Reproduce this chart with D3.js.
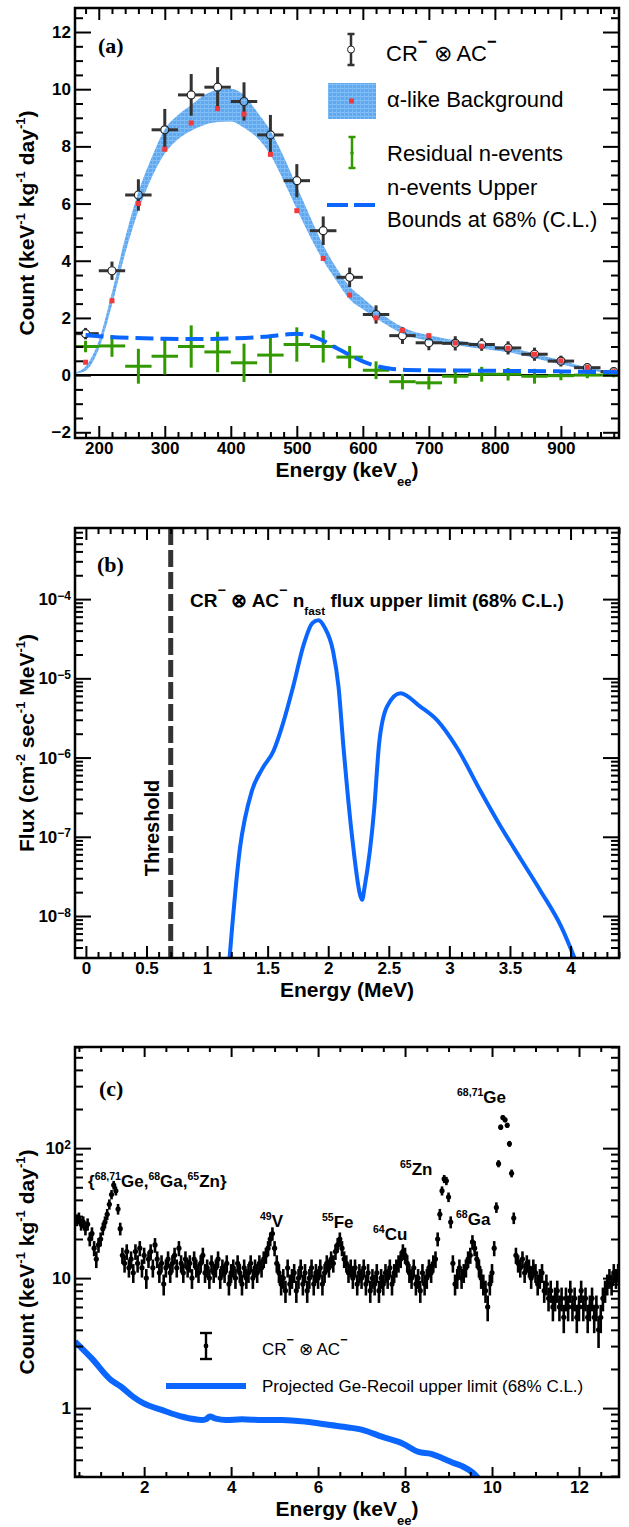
<!DOCTYPE html>
<html>
<head>
<meta charset="utf-8">
<script src="https://cdn.jsdelivr.net/npm/d3@7"></script>
<style>
body { margin: 0; background: #fff; }
</style>
</head>
<body>
<script>
// ---------- panel (a): CR- x AC- spectrum, keV_ee ----------
var binE      = [180, 220, 260, 300, 340, 380, 420, 460, 500, 540, 580, 620, 660, 700, 740, 780, 820, 860, 900, 940, 980];
var crCount   = [1.45, 3.65, 6.3, 8.58, 9.8, 10.07, 9.57, 8.4, 6.8, 5.05, 3.42, 2.12, 1.38, 1.13, 1.11, 1.07, 0.95, 0.73, 0.49, 0.26, 0.12];
var crErr     = [0.2, 0.32, 0.55, 0.73, 0.73, 0.7, 0.67, 0.7, 0.58, 0.5, 0.34, 0.32, 0.29, 0.26, 0.25, 0.22, 0.23, 0.23, 0.19, 0.15, 0.12];
var bgCount   = [0.45, 2.6, 6.0, 7.9, 8.82, 9.32, 9.13, 7.72, 5.75, 4.08, 2.8, 2.0, 1.57, 1.38, 1.12, 1.01, 0.94, 0.73, 0.5, 0.27, 0.12];
var resCount  = [1.0, 1.02, 0.31, 0.66, 1.0, 0.81, 0.43, 0.7, 1.07, 1.0, 0.63, 0.17, -0.23, -0.27, -0.04, 0.03, 0.03, -0.04, -0.02, 0.0, 0.0];
var resErr    = [0.2, 0.38, 0.61, 0.64, 0.74, 0.71, 0.67, 0.64, 0.6, 0.56, 0.39, 0.31, 0.27, 0.23, 0.26, 0.26, 0.22, 0.26, 0.16, 0.11, 0.08];

var bandE    = [165, 180, 200, 220, 240, 260, 280, 300, 320, 340, 360, 380, 400, 420, 440, 460, 480, 500, 520, 540, 560, 580, 600, 620, 640, 660, 680, 700, 720, 740, 760, 780, 800, 820, 840, 860, 880, 900, 920, 940, 960, 980, 990];
var bandLow  = [0.05, 0.15, 0.9, 2.45, 4.25, 5.75, 6.9, 7.75, 8.25, 8.55, 8.75, 8.85, 8.87, 8.65, 8.3, 7.7, 6.8, 5.8, 4.85, 4.0, 3.3, 2.65, 2.3, 2.0, 1.7, 1.45, 1.3, 1.2, 1.12, 1.05, 0.98, 0.92, 0.86, 0.8, 0.7, 0.6, 0.48, 0.38, 0.27, 0.18, 0.11, 0.05, 0.03];
var bandHigh = [0.1, 0.3, 1.2, 2.9, 4.8, 6.4, 7.6, 8.6, 9.1, 9.45, 9.8, 9.98, 10.02, 9.8, 9.2, 8.55, 7.65, 6.6, 5.55, 4.55, 3.75, 3.1, 2.7, 2.3, 1.95, 1.68, 1.5, 1.4, 1.3, 1.22, 1.15, 1.1, 1.03, 0.96, 0.87, 0.76, 0.63, 0.52, 0.39, 0.28, 0.19, 0.12, 0.09];

var boundE   = [180, 200, 250, 300, 350, 400, 450, 480, 500, 520, 540, 560, 580, 600, 620, 640, 660, 700, 750, 800, 850, 900, 950, 990];
var boundVal = [1.4, 1.36, 1.3, 1.27, 1.26, 1.28, 1.34, 1.41, 1.45, 1.38, 1.2, 0.95, 0.7, 0.48, 0.32, 0.23, 0.19, 0.17, 0.16, 0.15, 0.14, 0.13, 0.11, 0.1];

// ---------- panel (b): fast neutron flux upper limit ----------
var fluxE   = [1.17, 1.27, 1.37, 1.455, 1.55, 1.63, 1.71, 1.8, 1.87, 1.92, 1.97, 2.04, 2.085, 2.125, 2.2, 2.265, 2.28, 2.3, 2.38, 2.42, 2.485, 2.595, 2.76, 2.9, 3.06, 3.26, 3.4, 3.59, 3.75, 3.92, 4.1];
var fluxVal = [1.5e-9, 6.9e-8, 3.8e-7, 7.2e-7, 1.23e-6, 2.8e-6, 7.8e-6, 2.75e-5, 5.0e-5, 5.4e-5, 4.4e-5, 2.2e-5, 7.8e-6, 1.4e-6, 9.1e-8, 1.8e-8, 1.6e-8, 2.3e-8, 2.3e-7, 1.5e-6, 4.4e-6, 6.5e-6, 4.4e-6, 2.95e-6, 1.35e-6, 3.7e-7, 1.55e-7, 5.2e-8, 2.1e-8, 7.5e-9, 1.6e-9];
var thresholdE = 0.7;

// ---------- panel (c): low energy spectrum (0.05 keV bins from 0.45 keV) ----------
var specStart = 0.45, specStep = 0.05;
var specCount = [
  28, 29, 26, 27, 24, 26, 20, 22, 17, 14,      // 0.45 - 0.90
  18, 20, 24, 27, 31, 37, 44, 52, 47, 34,      // 0.95 - 1.40
  24, 15, 13, 16, 12, 14, 11, 16, 13, 17,      // 1.45 - 1.90
  12, 15, 10, 14, 16, 12, 18, 14, 11, 13,      // 1.95 - 2.40
  9, 12, 14, 11, 13, 15, 12, 17, 13, 11,       // 2.45 - 2.90
  14, 12, 13, 10, 14, 12, 11, 13, 15, 11,      // 2.95 - 3.40
  12, 10, 13, 11, 12, 14, 10, 12, 11, 13,      // 3.45 - 3.90
  9, 11, 12, 10, 13, 11, 9, 12, 10, 11,        // 3.95 - 4.40
  13, 10, 12, 11, 13, 12, 14, 15, 17, 20,      // 4.45 - 4.90
  22, 17, 13, 11, 9, 10, 8, 12, 9, 10,         // 4.95 - 5.40
  11, 8, 10, 12, 9, 11, 8, 10, 12, 9,          // 5.45 - 5.90
  11, 10, 12, 9, 11, 13, 12, 14, 13, 16,       // 5.95 - 6.40
  18, 20, 17, 14, 13, 11, 12, 10, 12, 9,       // 6.45 - 6.90
  11, 10, 12, 9, 11, 8, 10, 9, 11, 8,          // 6.95 - 7.40
  10, 9, 11, 10, 12, 9, 11, 12, 13, 14,        // 7.45 - 7.90
  16, 15, 13, 11, 10, 12, 9, 10, 8, 11,        // 7.95 - 8.40
  9, 10, 12, 11, 13, 14, 20, 31, 47, 58,       // 8.45 - 8.90
  56, 42, 27, 13, 9, 10, 12, 10, 11, 12,       // 8.95 - 9.40
  14, 15, 19, 17, 14, 12, 10, 9, 8, 6,         // 9.45 - 9.90
  9, 11, 17, 35, 76, 145, 172, 165, 150, 108,  // 9.95 - 10.40
  64, 29, 15, 13, 12, 14, 11, 13, 12, 10,      // 10.45 - 10.90
  12, 11, 9, 10, 11, 8, 9, 7, 8, 6,            // 10.95 - 11.40
  7, 8, 6, 7, 5, 7, 6, 8, 6, 7,                // 11.45 - 11.90
  5, 6, 8, 6, 7, 5, 6, 7, 5, 6,                // 11.95 - 12.40
  4, 5, 7, 8, 9, 10, 9, 11, 10, 11             // 12.45 - 12.90
];
var errScale = 0.55; // error bar half-length ~ errScale*sqrt(count)
var recoilE   = [0.41, 0.8, 1.24, 1.47, 1.75, 1.98, 2.4, 2.87, 3.33, 3.42, 3.51, 3.65, 3.88, 4.25, 4.7, 5.17, 5.73, 6.28, 6.7, 7.02, 7.48, 7.94, 8.31, 8.6, 8.87, 9.1, 9.34, 9.55, 9.72];
var recoilVal = [3.25, 2.4, 1.64, 1.46, 1.22, 1.09, 0.97, 0.86, 0.81, 0.82, 0.86, 0.83, 0.81, 0.82, 0.81, 0.81, 0.785, 0.74, 0.71, 0.68, 0.6, 0.535, 0.46, 0.445, 0.41, 0.38, 0.354, 0.32, 0.28];

var BLUE = "#0a66ff";
var SANS = "'Liberation Sans', Arial, sans-serif";
var SERIF = "'Liberation Serif', 'DejaVu Serif', serif";
var svg = d3.select("body").append("svg")
	.attr("width", 629)
	.attr("height", 1527)
	.style("font-family", SANS);

// hatched light-blue fill like the ROOT band
var pat = svg.append("defs").append("pattern")
	.attr("id", "bandFill").attr("patternUnits", "userSpaceOnUse")
	.attr("width", 4).attr("height", 4);
pat.append("rect").attr("width", 4).attr("height", 4).attr("fill", "#5ea9f1");
pat.append("rect").attr("width", 4).attr("height", 1).attr("fill", "#85bff5");
pat.append("rect").attr("width", 1).attr("height", 4).attr("fill", "#7ab9f4");

// rich text: parts are strings or [string, "sup"|"sub"|"bar"]
function rich(parent, x, y, parts, size, weight, anchor) {
	var t = parent.append("text")
		.attr("x", x).attr("y", y)
		.attr("font-size", size)
		.attr("font-weight", weight || "normal")
		.attr("text-anchor", anchor || "start")
		.attr("fill", "#000");
	var shift = 0;
	var off = {sup: -0.42, sub: 0.42, bar: -0.62};
	parts.forEach(function(p) {
		var kind = typeof p === "string" ? "" : p[1];
		var str = typeof p === "string" ? p : p[0];
		var target = kind ? off[kind] * size : 0;
		t.append("tspan")
			.attr("dy", target - shift)
			.attr("font-size", kind ? size * (kind === "bar" ? 0.75 : 0.62) : size)
			.attr("font-weight", kind === "bar" ? "bold" : null)
			.text(str);
		shift = target;
	});
	return t;
}

function axes(x, y, o) {
	var g = svg.append("g");
	var xl = x.range()[0], xr = x.range()[1], yb = y.range()[0], yt = y.range()[1];
	var fmt = o.xFmt || function(d) { return d; };
	g.append("g").attr("transform", "translate(0," + yb + ")")
		.call(d3.axisBottom(x).tickValues(o.xMajor).tickSize(-o.xLen).tickPadding(4).tickFormat(fmt));
	g.append("g").attr("transform", "translate(0," + yb + ")")
		.call(d3.axisBottom(x).tickValues(o.xMinor).tickSize(-o.xLen / 2).tickFormat(""));
	g.append("g").attr("transform", "translate(0," + yt + ")")
		.call(d3.axisTop(x).tickValues(o.xMajor).tickSize(-o.xLen).tickFormat(""));
	g.append("g").attr("transform", "translate(0," + yt + ")")
		.call(d3.axisTop(x).tickValues(o.xMinor).tickSize(-o.xLen / 2).tickFormat(""));
	var ly = g.append("g").attr("transform", "translate(" + xl + ",0)")
		.call(d3.axisLeft(y).tickValues(o.yMajor).tickSize(-16).tickPadding(4).tickFormat(o.yFmt || function(d) { return d; }));
	g.append("g").attr("transform", "translate(" + xl + ",0)")
		.call(d3.axisLeft(y).tickValues(o.yMinor).tickSize(-8).tickFormat(""));
	g.append("g").attr("transform", "translate(" + xr + ",0)")
		.call(d3.axisRight(y).tickValues(o.yMajor).tickSize(-16).tickFormat(""));
	g.append("g").attr("transform", "translate(" + xr + ",0)")
		.call(d3.axisRight(y).tickValues(o.yMinor).tickSize(-8).tickFormat(""));
	g.selectAll(".domain").remove();
	g.selectAll(".tick line").attr("stroke", "#000").attr("stroke-width", 2);
	g.selectAll("text").attr("font-size", 17).attr("font-weight", "bold")
		.attr("font-family", SANS).attr("fill", "#000");
	if (o.yExp) {
		ly.selectAll(".tick text").each(function(d) {
			var e = Math.round(Math.log10(d));
			var t = d3.select(this).text("");
			if (e === 0) { t.text("1"); return; }
			if (e === 1) { t.text("10"); return; }
			t.append("tspan").text("10");
			t.append("tspan").attr("dy", "-0.45em").attr("font-size", 12)
				.text(e < 0 ? "\u2212" + (-e) : e);
		});
	}
	g.append("rect")
		.attr("x", xl).attr("y", yt)
		.attr("width", xr - xl).attr("height", yb - yt)
		.attr("fill", "none").attr("stroke", "#000").attr("stroke-width", 2.5);
}

function clipFor(id, x, y) {
	svg.append("clipPath").attr("id", id).append("rect")
		.attr("x", x.range()[0]).attr("y", y.range()[1])
		.attr("width", x.range()[1] - x.range()[0])
		.attr("height", y.range()[0] - y.range()[1]);
}

function panelTag(x, y, s) {
	svg.append("text").attr("x", x).attr("y", y)
		.style("font-family", SERIF)
		.attr("font-weight", "bold").attr("font-size", 22).text(s);
}

// ================= panel (a) =================
var xa = d3.scaleLinear().domain([164, 988]).range([75, 619]);
var ya = d3.scaleLinear().domain([-2.2, 12.84]).range([438, 8]);
clipFor("clipA", xa, ya);
var ga = svg.append("g").attr("clip-path", "url(#clipA)");

var bandArea = d3.area()
	.x(function(d, i) { return xa(bandE[i]); })
	.y0(function(d, i) { return ya(bandLow[i]); })
	.y1(function(d, i) { return ya(bandHigh[i]); })
	.curve(d3.curveMonotoneX);
ga.append("path").datum(bandE).attr("d", bandArea).attr("fill", "url(#bandFill)");

ga.append("line")
	.attr("x1", xa.range()[0]).attr("x2", xa.range()[1])
	.attr("y1", ya(0)).attr("y2", ya(0))
	.attr("stroke", "#000").attr("stroke-width", 2);

// black CR- x AC- points, open markers (bars stop at the marker edge)
var R = 4;
var cr = ga.selectAll(".cr").data(binE).enter().append("g").attr("class", "cr");
cr.each(function(d, i) {
	var g = d3.select(this), cx = xa(d), cy = ya(crCount[i]);
	var segs = [
		[xa(d - 20), cy, cx - R, cy], [cx + R, cy, xa(d + 20), cy],
		[cx, ya(crCount[i] + crErr[i]), cx, cy - R], [cx, cy + R, cx, ya(crCount[i] - crErr[i])]
	];
	segs.forEach(function(s) {
		g.append("line").attr("x1", s[0]).attr("y1", s[1]).attr("x2", s[2]).attr("y2", s[3])
			.attr("stroke", "#333").attr("stroke-width", 3);
	});
	g.append("circle").attr("cx", cx).attr("cy", cy).attr("r", R)
		.attr("fill", "none").attr("stroke", "#222").attr("stroke-width", 1.2);
});

// red alpha-like background markers
ga.selectAll(".bg").data(binE).enter().append("rect")
	.attr("x", function(d) { return xa(d) - 2.5; })
	.attr("y", function(d, i) { return ya(bgCount[i]) - 2.5; })
	.attr("width", 5).attr("height", 5).attr("fill", "#f23a3a");

// green residual n-events
var rs = ga.selectAll(".res").data(binE).enter().append("g");
rs.append("line")
	.attr("x1", function(d) { return xa(d - 20); }).attr("x2", function(d) { return xa(d + 20); })
	.attr("y1", function(d, i) { return ya(resCount[i]); }).attr("y2", function(d, i) { return ya(resCount[i]); })
	.attr("stroke", "#339900").attr("stroke-width", 3);
rs.append("line")
	.attr("x1", function(d) { return xa(d); }).attr("x2", function(d) { return xa(d); })
	.attr("y1", function(d, i) { return ya(resCount[i] - resErr[i]); })
	.attr("y2", function(d, i) { return ya(resCount[i] + resErr[i]); })
	.attr("stroke", "#339900").attr("stroke-width", 3);

// dashed upper bound
var boundLine = d3.line()
	.x(function(d, i) { return xa(boundE[i]); })
	.y(function(d, i) { return ya(boundVal[i]); })
	.curve(d3.curveMonotoneX);
ga.append("path").datum(boundE).attr("d", boundLine)
	.attr("fill", "none").attr("stroke", BLUE).attr("stroke-width", 4)
	.attr("stroke-dasharray", "18,7");

axes(xa, ya, {
	xMajor: d3.range(200, 901, 100),
	xMinor: d3.range(180, 990, 20).filter(function(d) { return d % 100 !== 0; }),
	xLen: 12,
	yMajor: [-2, 0, 2, 4, 6, 8, 10, 12],
	yMinor: d3.range(-4, 26).map(function(i) { return i / 2; }).filter(function(d) { return d % 2 !== 0 && d > -2.2 && d < 12.8; }),
	yFmt: function(d) { return d < 0 ? "\u2212" + (-d) : d; }
});

panelTag(98, 53, "(a)");
rich(svg, 34, 223, ["Count (keV", ["-1", "sup"], " kg", ["-1", "sup"], " day", ["-1", "sup"], ")"], 21, "bold", "middle")
	.attr("transform", "rotate(-90,34,223)");
rich(svg, 347, 477, ["Energy (keV", ["ee", "sub"], ")"], 21, "bold", "middle");

// legend (a)
var la = svg.append("g");
la.append("line").attr("x1", 351).attr("x2", 351).attr("y1", 34).attr("y2", 46).attr("stroke", "#333").attr("stroke-width", 2.5);
la.append("line").attr("x1", 351).attr("x2", 351).attr("y1", 53).attr("y2", 65).attr("stroke", "#333").attr("stroke-width", 2.5);
la.append("line").attr("x1", 347.5).attr("x2", 354.5).attr("y1", 34).attr("y2", 34).attr("stroke", "#333").attr("stroke-width", 2.5);
la.append("line").attr("x1", 347.5).attr("x2", 354.5).attr("y1", 65).attr("y2", 65).attr("stroke", "#333").attr("stroke-width", 2.5);
la.append("circle").attr("cx", 351).attr("cy", 49.5).attr("r", 3.5).attr("fill", "#fff").attr("stroke", "#222");
rich(la, 386, 61, ["CR", ["\u2212", "bar"], "  \u2297 AC", ["\u2212", "bar"]], 22, "normal");
la.append("rect").attr("x", 328).attr("y", 83).attr("width", 48).attr("height", 36).attr("fill", "url(#bandFill)");
la.append("rect").attr("x", 349).attr("y", 98.5).attr("width", 5).attr("height", 5).attr("fill", "#f23a3a");
rich(la, 387, 107, ["\u03b1-like Background"], 22, "normal");
la.append("line").attr("x1", 352).attr("x2", 352).attr("y1", 137).attr("y2", 168).attr("stroke", "#339900").attr("stroke-width", 2.5);
la.append("line").attr("x1", 348.5).attr("x2", 355.5).attr("y1", 137).attr("y2", 137).attr("stroke", "#339900").attr("stroke-width", 2.5);
la.append("line").attr("x1", 348.5).attr("x2", 355.5).attr("y1", 168).attr("y2", 168).attr("stroke", "#339900").attr("stroke-width", 2.5);
la.append("circle").attr("cx", 352).attr("cy", 153).attr("r", 1.8).attr("fill", "#339900");
rich(la, 387, 161, ["Residual n-events"], 22, "normal");
la.append("line").attr("x1", 327).attr("x2", 376).attr("y1", 205).attr("y2", 205)
	.attr("stroke", BLUE).attr("stroke-width", 4).attr("stroke-dasharray", "21,6");
rich(la, 387, 195, ["n-events Upper"], 22, "normal");
rich(la, 387, 227, ["Bounds at 68% (C.L.)"], 22, "normal");

// ================= panel (b) =================
var xb = d3.scaleLinear().domain([-0.09, 4.40]).range([75, 619]);
var yb = d3.scaleLog().domain([2.95e-9, 7.9e-4]).range([958, 528]);
clipFor("clipB", xb, yb);
var gb = svg.append("g").attr("clip-path", "url(#clipB)");

gb.append("line")
	.attr("x1", xb(thresholdE)).attr("x2", xb(thresholdE))
	.attr("y1", yb.range()[1]).attr("y2", yb.range()[0])
	.attr("stroke", "#333").attr("stroke-width", 5).attr("stroke-dasharray", "17,5");

var fluxLine = d3.line()
	.x(function(d, i) { return xb(fluxE[i]); })
	.y(function(d, i) { return yb(fluxVal[i]); })
	.curve(d3.curveMonotoneX);
gb.append("path").datum(fluxE).attr("d", fluxLine)
	.attr("fill", "none").attr("stroke", BLUE).attr("stroke-width", 4).attr("stroke-linejoin", "round");

var bMinor = yb.ticks(60).filter(function(d) {
	var m = d / Math.pow(10, Math.floor(Math.log10(d) + 1e-9));
	return Math.abs(m - 1) > 1e-6;
});
axes(xb, yb, {
	xMajor: d3.range(0, 9).map(function(i) { return i / 2; }),
	xMinor: d3.range(0, 45).map(function(i) { return i / 10; }).filter(function(d) { return Math.abs(d * 2 - Math.round(d * 2)) > 1e-6; }),
	xFmt: function(d) { return String(d); },
	xLen: 12,
	yMajor: [1e-8, 1e-7, 1e-6, 1e-5, 1e-4],
	yMinor: bMinor,
	yExp: true
});

panelTag(97, 572, "(b)");
rich(svg, 190, 607, ["CR", ["\u2212", "bar"], "  \u2297 AC", ["\u2212", "bar"], "  n", ["fast", "sub"], " flux upper limit (68% C.L.)"], 19, "bold");
svg.append("text").attr("font-size", 20).attr("font-weight", "bold")
	.attr("text-anchor", "middle")
	.attr("transform", "translate(159,828) rotate(-90)")
	.text("Threshold");
rich(svg, 34, 743, ["Flux (cm", ["-2", "sup"], " sec", ["-1", "sup"], " MeV", ["-1", "sup"], ")"], 21, "bold", "middle")
	.attr("transform", "rotate(-90,34,743)");
rich(svg, 347, 997, ["Energy (MeV)"], 21, "bold", "middle");

// ================= panel (c) =================
var xc = d3.scaleLinear().domain([0.41, 12.92]).range([75, 619]);
var yc = d3.scaleLog().domain([0.295, 600]).range([1477, 1047]);
clipFor("clipC", xc, yc);
var gc = svg.append("g").attr("clip-path", "url(#clipC)");

var spec = gc.selectAll(".sp").data(specCount).enter().append("g");
spec.append("line")
	.attr("x1", function(d, i) { return xc(specStart + i * specStep); })
	.attr("x2", function(d, i) { return xc(specStart + i * specStep); })
	.attr("y1", function(d) { return yc(d - errScale * Math.sqrt(d)); })
	.attr("y2", function(d) { return yc(d + errScale * Math.sqrt(d)); })
	.attr("stroke", "#000").attr("stroke-width", 2.6);
spec.append("circle")
	.attr("cx", function(d, i) { return xc(specStart + i * specStep); })
	.attr("cy", function(d) { return yc(d); })
	.attr("r", 2.6).attr("fill", "#000");

var recoilLine = d3.line()
	.x(function(d, i) { return xc(recoilE[i]); })
	.y(function(d, i) { return yc(recoilVal[i]); })
	.curve(d3.curveMonotoneX);
gc.append("path").datum(recoilE).attr("d", recoilLine)
	.attr("fill", "none").attr("stroke", BLUE).attr("stroke-width", 6);

var cMinor = yc.ticks(60).filter(function(d) {
	var m = d / Math.pow(10, Math.floor(Math.log10(d) + 1e-9));
	return Math.abs(m - 1) > 1e-6;
});
axes(xc, yc, {
	xMajor: [2, 4, 6, 8, 10, 12],
	xMinor: d3.range(1, 26).map(function(i) { return i / 2; }).filter(function(d) { return d % 2 !== 0; }),
	xLen: 10,
	yMajor: [1, 10, 100],
	yMinor: cMinor,
	yExp: true
});

panelTag(99, 1096, "(c)");

rich(svg, 88, 1187, ["{", ["68,71", "sup"], "Ge,", ["68", "sup"], "Ga,", ["65", "sup"], "Zn}"], 17, "bold");
rich(svg, 260, 1227, [["49", "sup"], "V"], 17, "bold");
rich(svg, 322, 1228, [["55", "sup"], "Fe"], 17, "bold");
rich(svg, 373, 1240, [["64", "sup"], "Cu"], 17, "bold");
rich(svg, 400, 1175, [["65", "sup"], "Zn"], 17, "bold");
rich(svg, 456, 1225, [["68", "sup"], "Ga"], 17, "bold");
rich(svg, 457, 1103, [["68,71", "sup"], "Ge"], 17, "bold");

// legend (c)
var lc = svg.append("g");
lc.append("line").attr("x1", 206).attr("x2", 206).attr("y1", 1333).attr("y2", 1359).attr("stroke", "#000").attr("stroke-width", 2.4);
lc.append("line").attr("x1", 200).attr("x2", 212).attr("y1", 1333).attr("y2", 1333).attr("stroke", "#000").attr("stroke-width", 2.4);
lc.append("line").attr("x1", 200).attr("x2", 212).attr("y1", 1359).attr("y2", 1359).attr("stroke", "#000").attr("stroke-width", 2.4);
lc.append("circle").attr("cx", 206).attr("cy", 1346).attr("r", 2.4).attr("fill", "#000");
rich(lc, 262, 1355, ["CR", ["\u2212", "bar"], "  \u2297 AC", ["\u2212", "bar"]], 17, "normal");
lc.append("line").attr("x1", 166).attr("x2", 246).attr("y1", 1386).attr("y2", 1386).attr("stroke", BLUE).attr("stroke-width", 6);
rich(lc, 262, 1392, ["Projected Ge-Recoil upper limit (68% C.L.)"], 17, "normal");

rich(svg, 34, 1262, ["Count (keV", ["-1", "sup"], " kg", ["-1", "sup"], " day", ["-1", "sup"], ")"], 21, "bold", "middle")
	.attr("transform", "rotate(-90,34,1262)");
rich(svg, 347, 1516, ["Energy (keV", ["ee", "sub"], ")"], 21, "bold", "middle");
</script>
</body>
</html>
